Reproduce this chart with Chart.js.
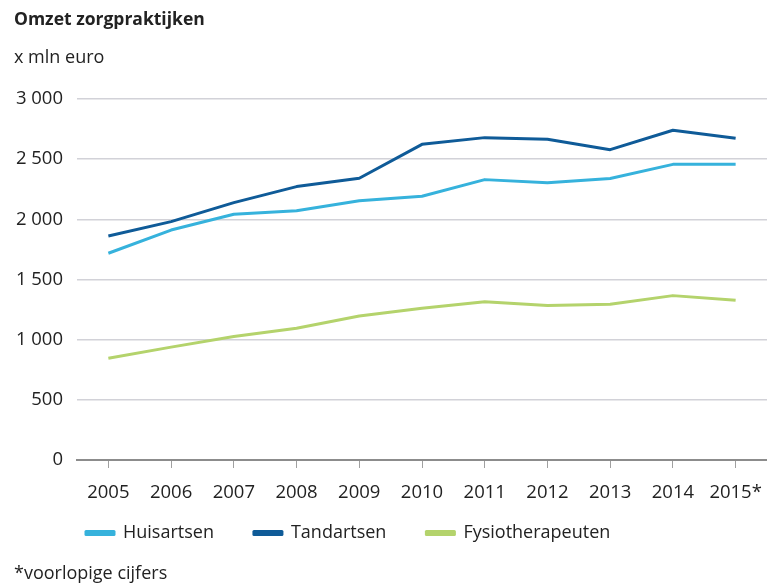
<!DOCTYPE html>
<html>
<head>
<meta charset="utf-8">
<script src="https://cdn.jsdelivr.net/npm/chart.js@4/dist/chart.umd.min.js"></script>
<style>
    body { margin: 0; background: #fff; }
    #wrap { position: relative; width: 767px; height: 583px; }
    #note { position: absolute; left: 14px; top: 560px; font: 18px "Open Sans", sans-serif; line-height: 24px; color: #222; }
</style>
</head>
<body>
<div id="wrap">
    <canvas id="omzetChart"></canvas>
    <div id="note">*voorlopige cijfers</div>
</div>
<script>
// Jaren op de x-as
const years = ['2005', '2006', '2007', '2008', '2009', '2010', '2011', '2012', '2013', '2014', '2015*'];

// Omzet in mln euro
const huisartsen = [1718, 1911, 2042, 2072, 2155, 2192, 2330, 2305, 2340, 2457, 2457];
const tandartsen = [1862, 1981, 2139, 2272, 2341, 2623, 2679, 2665, 2579, 2740, 2673];
const fysiotherapeuten = [845, 938, 1027, 1095, 1197, 1262, 1315, 1283, 1295, 1366, 1327];

const textColor = '#222';
const fontFamily = '"Open Sans", sans-serif';

function line(label, values, color) {
    return {
        label: label,
        data: values,
        borderColor: color,
        backgroundColor: color,
        borderWidth: 3,
        pointRadius: 0,
        tension: 0,
        borderJoinStyle: 'round'
    };
}

// legenda op zijn plek zetten (Chart.js rekent vanaf left/top + padding)
const legendShift = {
    id: 'legendShift',
    afterLayout(chart) {
        chart.legend.left = 46;
        chart.legend.top = 484;
    }
};

Chart.defaults.font.family = fontFamily;
Chart.defaults.color = textColor;

new Chart(document.getElementById('omzetChart'), {
    type: 'line',
    data: {
        labels: years,
        datasets: [
            line('Huisartsen', huisartsen, '#36b2dc'),
            line('Tandartsen', tandartsen, '#0f5b98'),
            line('Fysiotherapeuten', fysiotherapeuten, '#b4d36c')
        ]
    },
    options: {
        responsive: true,
        maintainAspectRatio: false,
        animation: false,
        layout: { padding: { left: 14, right: 0, top: 0, bottom: 9 } },
        plugins: {
            title: {
                display: true,
                text: 'Omzet zorgpraktijken',
                align: 'start',
                color: textColor,
                font: { size: 17.5, weight: 'bold' },
                padding: { top: 9.5, bottom: 0 }
            },
            subtitle: {
                display: true,
                text: 'x mln euro',
                align: 'start',
                color: textColor,
                font: { size: 18 },
                padding: { top: 16.7, bottom: 30.2 }
            },
            legend: {
                position: 'bottom',
                align: 'start',
                labels: {
                    boxWidth: 28,
                    boxHeight: 3,
                    padding: 40,
                    color: textColor,
                    font: { size: 18 }
                }
            },
            tooltip: { enabled: false }
        },
        scales: {
            x: {
                offset: true,
                grid: {
                    offset: false,
                    drawOnChartArea: false,
                    drawTicks: true,
                    tickLength: 8,
                    color: '#a0a0a0'
                },
                border: { color: '#8c8c8c', width: 2 },
                ticks: { font: { size: 18.5 }, padding: 13.9, color: textColor },
                afterFit: function(scale) {
                    scale.height = 46;
                    scale.paddingRight = 0; // grafiek tot de rechterrand
                }
            },
            y: {
                min: 0,
                max: 3000,
                grid: {
                    drawTicks: false,
                    lineWidth: 1.5,
                    color: (c) => c.tick && c.tick.value === 0 ? 'rgba(0,0,0,0)' : '#d2d2d8'
                },
                border: { display: false },
                ticks: {
                    stepSize: 500,
                    padding: 14,
                    color: textColor,
                    font: { size: 18.5 },
                    callback: (v) => String(v).replace(/\B(?=(\d{3})+(?!\d))/g, ' ')
                },
                afterFit: function(scale) { scale.width = 63; }
            }
        }
    },
    plugins: [legendShift]
});
</script>
</body>
</html>
